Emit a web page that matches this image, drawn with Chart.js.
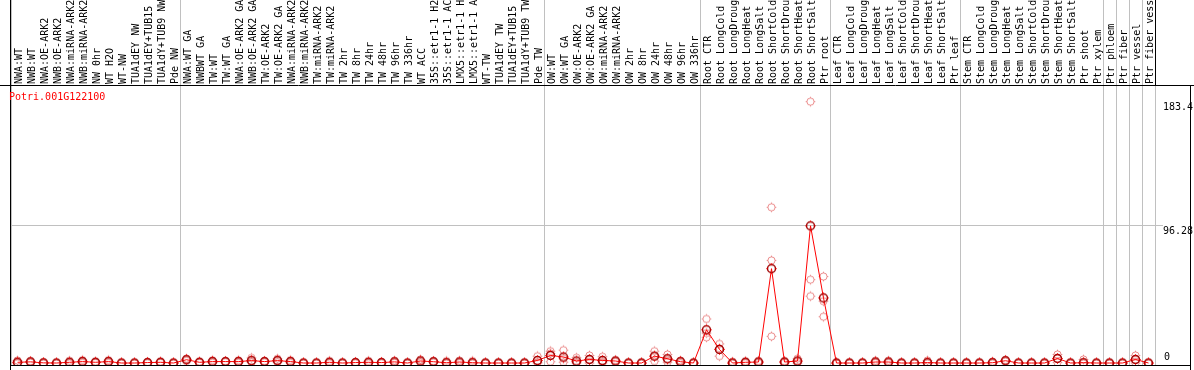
<!DOCTYPE html>
<html>
<head>
<meta charset="utf-8">
<script src="https://cdn.jsdelivr.net/npm/chart.js@4"></script>
<style>
  html, body { margin: 0; padding: 0; background: #fff; }
  #wrap { width: 1194px; height: 370px; }
</style>
</head>
<body>
<div id="wrap"><canvas id="chart" width="1194" height="370"></canvas></div>
<script>
const geneName = 'Potri.001G122100';

const samples = [
  'NWA:WT', 'NWB:WT', 'NWA:OE-ARK2', 'NWB:OE-ARK2', 'NWA:miRNA-ARK2', 'NWB:miRNA-ARK2',
  'NW 0hr', 'WT H2O', 'WT-NW', 'TUA1dEY NW', 'TUA1dEY+TUB15 NW', 'TUA1dY+TUB9 NW', 'Pde NW',
  'NWA:WT GA', 'NWBWT GA', 'TW:WT', 'TW:WT GA', 'NWA:OE-ARK2 GA', 'NWB:OE-ARK2 GA',
  'TW:OE-ARK2', 'TW:OE-ARK2 GA', 'NWA:miRNA-ARK2 GA', 'NWB:miRNA-ARK2 GA', 'TW:miRNA-ARK2',
  'TW:miRNA-ARK2', 'TW 2hr', 'TW 8hr', 'TW 24hr', 'TW 48hr', 'TW 96hr', 'TW 336hr', 'WT ACC',
  '35S::etr1-1 H2O', '35S::etr1-1 ACC', 'LMX5::etr1-1 H2O', 'LMX5::etr1-1 ACC', 'WT-TW',
  'TUA1dEY TW', 'TUA1dEY+TUB15 TW', 'TUA1dY+TUB9 TW', 'Pde TW',
  'OW:WT', 'OW:WT GA', 'OW:OE-ARK2', 'OW:OE-ARK2 GA', 'OW:miRNA-ARK2', 'OW:miRNA-ARK2',
  'OW 2hr', 'OW 8hr', 'OW 24hr', 'OW 48hr', 'OW 96hr', 'OW 336hr',
  'Root CTR', 'Root LongCold', 'Root LongDrought', 'Root LongHeat', 'Root LongSalt',
  'Root ShortCold', 'Root ShortDrought', 'Root ShortHeat', 'Root ShortSalt', 'Ptr root',
  'Leaf CTR', 'Leaf LongCold', 'Leaf LongDrought', 'Leaf LongHeat', 'Leaf LongSalt',
  'Leaf ShortCold', 'Leaf ShortDrought', 'Leaf ShortHeat', 'Leaf ShortSalt', 'Ptr leaf',
  'Stem CTR', 'Stem LongCold', 'Stem LongDrought', 'Stem LongHeat', 'Stem LongSalt',
  'Stem ShortCold', 'Stem ShortDrought', 'Stem ShortHeat', 'Stem ShortSalt', 'Ptr shoot',
  'Ptr xylem', 'Ptr phloem', 'Ptr fiber', 'Ptr vessel', 'Ptr fiber vessel'
];

// index of the first sample of each block (a grey line is drawn before it)
const groupStarts = [0, 13, 41, 53, 63, 73, 84, 85, 86, 87];

const meanValues = [
  0.5, 0.8, 0.1, 0, 0.5, 1.0, 0.5, 1.0, 0, 0, 0.3, 0.5, 0,
  2.3, 0.5, 1.0, 1.0, 1.0, 1.7, 1.0, 1.7, 1.0, 0, 0, 0.5, 0, 0.3, 0.5, 0.3, 0.8, 0,
  1.4, 0.9, 0.2, 0.7, 0.2, 0, 0, 0, 0, 1.8,
  5.3, 4.2, 1.4, 2.5, 1.8, 1.4, 0, 0, 4.8, 3.0, 0.9, 0,
  23.3, 9.5, 0, 0.5, 0.7, 66.2, 0.7, 1.4, 96.28, 45.7,
  0, 0, 0, 0.7, 0.7, 0, 0, 0.3, 0, 0,
  0, 0, 0.2, 1.6, 0, 0, 0, 3.2, 0, 0.2, 0,
  0, 0, 2.5, 0
];

const rep1 = [
  1.8, 1.2, 0.3, 0.1, 1.5, 2.0, 0.8, 2.0, 0.1, 0.1, 0.6, 0.9, 0.1,
  3.0, 0.8, 1.9, 1.2, 1.9, 3.6, 1.3, 3.0, 2.0, 0.1, 0.1, 1.4, 0.1, 0.6, 1.4, 0.6, 1.6, 0.1,
  2.5, 1.2, 1.4, 1.6, 1.4, 0.1, 0.1, 0.1, 0.1, 4.8,
  8.3, 9.0, 3.7, 5.3, 4.4, 2.0, 0.2, 0.1, 8.3, 6.0, 1.8, 0.2,
  30.9, 13.4, 0.8, 1.2, 1.4, 109.3, 1.2, 3.0, 183.4, 60.7,
  0.1, 0.1, 0.2, 1.5, 1.5, 0.1, 0.1, 1.8, 0.1, 0.1,
  0.1, 0.1, 1.0, 2.0, 0.2, 0.1, 0.1, 6.0, 0.1, 2.5, 0.1,
  0.1, 0.1, 5.3, 0.1
];

const rep2 = [
  0, 0.8, 0, 0, 0, 0.8, 0.5, 0.8, 0, 0, 0.2, 0.4, 0,
  2.3, 0.5, 0.8, 1.0, 0.8, 1.0, 1.0, 1.5, 0.8, 0, 0, 0.1, 0, 0.3, 0.1, 0.3, 0.6, 0,
  1.4, 0.9, 0, 0.5, 0, 0, 0, 0, 0, 0.6,
  6.7, 3.0, 0.5, 2.2, 1.0, 1.4, 0, 0, 4.8, 2.4, 0.9, 0,
  21.0, 10.3, 0, 0.3, 0.7, 72.0, 0.8, 1.2, 58.5, 43.4,
  0, 0, 0.2, 0.5, 0.5, 0, 0, 0, 0, 0,
  0, 0, 0.1, 1.6, 0, 0, 0, 3.2, 0, 0, 0,
  0, 0, 2.2, 0
];

const rep3 = [
  0, 0.4, 0, 0, 0, 0.2, 0.2, 0.2, 0, 0, 0.1, 0.2, 0,
  1.6, 0.2, 0.3, 0.8, 0.3, 0.5, 0.7, 0.6, 0.2, 0, 0, 0, 0, 0, 0, 0, 0.2, 0,
  0.3, 0.6, 0, 0, 0, 0, 0, 0, 0, 0,
  0.9, 0.6, 0, 0, 0, 0.8, 0, 0, 1.3, 0.6, 0, 0,
  18.0, 4.8, 0, 0, 0, 18.7, 0.1, 0, 46.9, 32.5,
  0, 0, 0, 0.1, 0.1, 0, 0, 0, 0, 0,
  0, 0, 0, 1.2, 0, 0, 0, 0.4, 0, 0, 0,
  0, 0, 0, 0
];

const yTicks = [0, 96.28, 183.4];
const yGridValue = 96.28;

const FONT = { family: 'DejaVu Sans Mono', size: 10 };

// small ring markers with short tick marks, like the original plot symbols
function ringMarker(ring, tick, r, w, t) {
  const s = 15;
  const c = document.createElement('canvas');
  c.width = s; c.height = s;
  const g = c.getContext('2d');
  const m = s / 2;
  g.lineWidth = w;
  g.strokeStyle = ring;
  g.beginPath();
  g.arc(m, m, r, 0, Math.PI * 2);
  g.stroke();
  g.lineWidth = 1;
  g.strokeStyle = tick;
  g.beginPath();
  g.moveTo(m, m - r - t); g.lineTo(m, m - r);
  g.moveTo(m, m + r); g.lineTo(m, m + r + t);
  g.moveTo(m - r - t, m); g.lineTo(m - r, m);
  g.moveTo(m + r, m); g.lineTo(m + r + t, m);
  g.stroke();
  return c;
}
const repMarker = ringMarker('rgba(232,120,120,0.85)', 'rgba(232,120,120,0.85)', 3.6, 1, 1.2);
const meanMarker = ringMarker('#a00000', '#ff0000', 4, 1.5, 1.2);

const isGroupLine = (i) => i === undefined || groupStarts.includes(i);

const framePlugin = {
  id: 'frame',
  afterDraw(chart) {
    const { ctx, chartArea, scales } = chart;
    ctx.save();
    ctx.strokeStyle = '#000';
    ctx.lineWidth = 1;
    ctx.beginPath();
    ctx.moveTo(0, chartArea.top - 0.5); ctx.lineTo(chart.width, chartArea.top - 0.5);
    ctx.moveTo(chartArea.left - 0.5, 0); ctx.lineTo(chartArea.left - 0.5, chart.height);
    ctx.moveTo(chartArea.left, chartArea.bottom + 0.5); ctx.lineTo(1191, chartArea.bottom + 0.5);
    ctx.moveTo(1190.5, chartArea.top); ctx.lineTo(1190.5, chart.height);
    ctx.stroke();

    ctx.font = '10px "DejaVu Sans Mono"';
    ctx.fillStyle = '#ff0000';
    ctx.textAlign = 'left';
    ctx.textBaseline = 'middle';
    ctx.fillText(geneName, 9, 97);

    ctx.fillStyle = '#000';
    const y = scales.y;
    yTicks.forEach(v => {
      const py = y.getPixelForValue(v);
      if (v === 0) {
        ctx.textBaseline = 'bottom';
        ctx.fillText(String(v), chartArea.right + 9, py - 1);
      } else {
        ctx.textBaseline = 'top';
        ctx.fillText(String(v), chartArea.right + 8, py + 1);
      }
    });
    ctx.restore();
  }
};

Chart.defaults.font.family = FONT.family;
Chart.defaults.font.size = FONT.size;

new Chart(document.getElementById('chart'), {
  type: 'line',
  data: {
    labels: samples,
    datasets: [
      {
        label: 'mean',
        data: meanValues,
        borderColor: '#ff0000',
        borderWidth: 1,
        pointStyle: meanMarker,
        tension: 0,
        order: 0
      },
      { label: 'rep1', data: rep1, showLine: false, pointStyle: repMarker, order: 1 },
      { label: 'rep2', data: rep2, showLine: false, pointStyle: repMarker, order: 2 },
      { label: 'rep3', data: rep3, showLine: false, pointStyle: repMarker, order: 3 }
    ]
  },
  options: {
    responsive: false,
    animation: false,
    devicePixelRatio: 1,
    layout: { padding: { left: 11, right: 3, top: 0, bottom: 1 } },
    plugins: {
      legend: { display: false },
      tooltip: { enabled: false },
      title: { display: false }
    },
    scales: {
      x: {
        type: 'category',
        position: 'top',
        offset: true,
        border: { display: false },
        grid: {
          offset: true,
          drawOnChartArea: true,
          tickLength: 86,
          lineWidth: 1,
          color: (c) => isGroupLine(c.index) ? '#c0c0c0' : 'rgba(0,0,0,0)',
          tickColor: (c) => c.index === undefined ? '#000' : (isGroupLine(c.index) ? '#c0c0c0' : 'rgba(0,0,0,0)')
        },
        ticks: {
          autoSkip: false,
          minRotation: 90,
          maxRotation: 90,
          padding: -84,
          labelOffset: 14,
          color: '#000',
          font: FONT
        },
        afterFit: (s) => { s.height = 86; }
      },
      y: {
        position: 'right',
        min: -1.4,
        max: 194.4,
        border: { display: false },
        afterBuildTicks: (s) => { s.ticks = yTicks.map(v => ({ value: v })); },
        grid: {
          color: (c) => c.tick && c.tick.value === yGridValue ? '#c0c0c0' : 'rgba(0,0,0,0)',
          drawTicks: true,
          tickLength: 8
        },
        ticks: { display: false },
        afterFit: (s) => { s.width = 36; }
      }
    }
  },
  plugins: [framePlugin]
});
</script>
</body>
</html>
